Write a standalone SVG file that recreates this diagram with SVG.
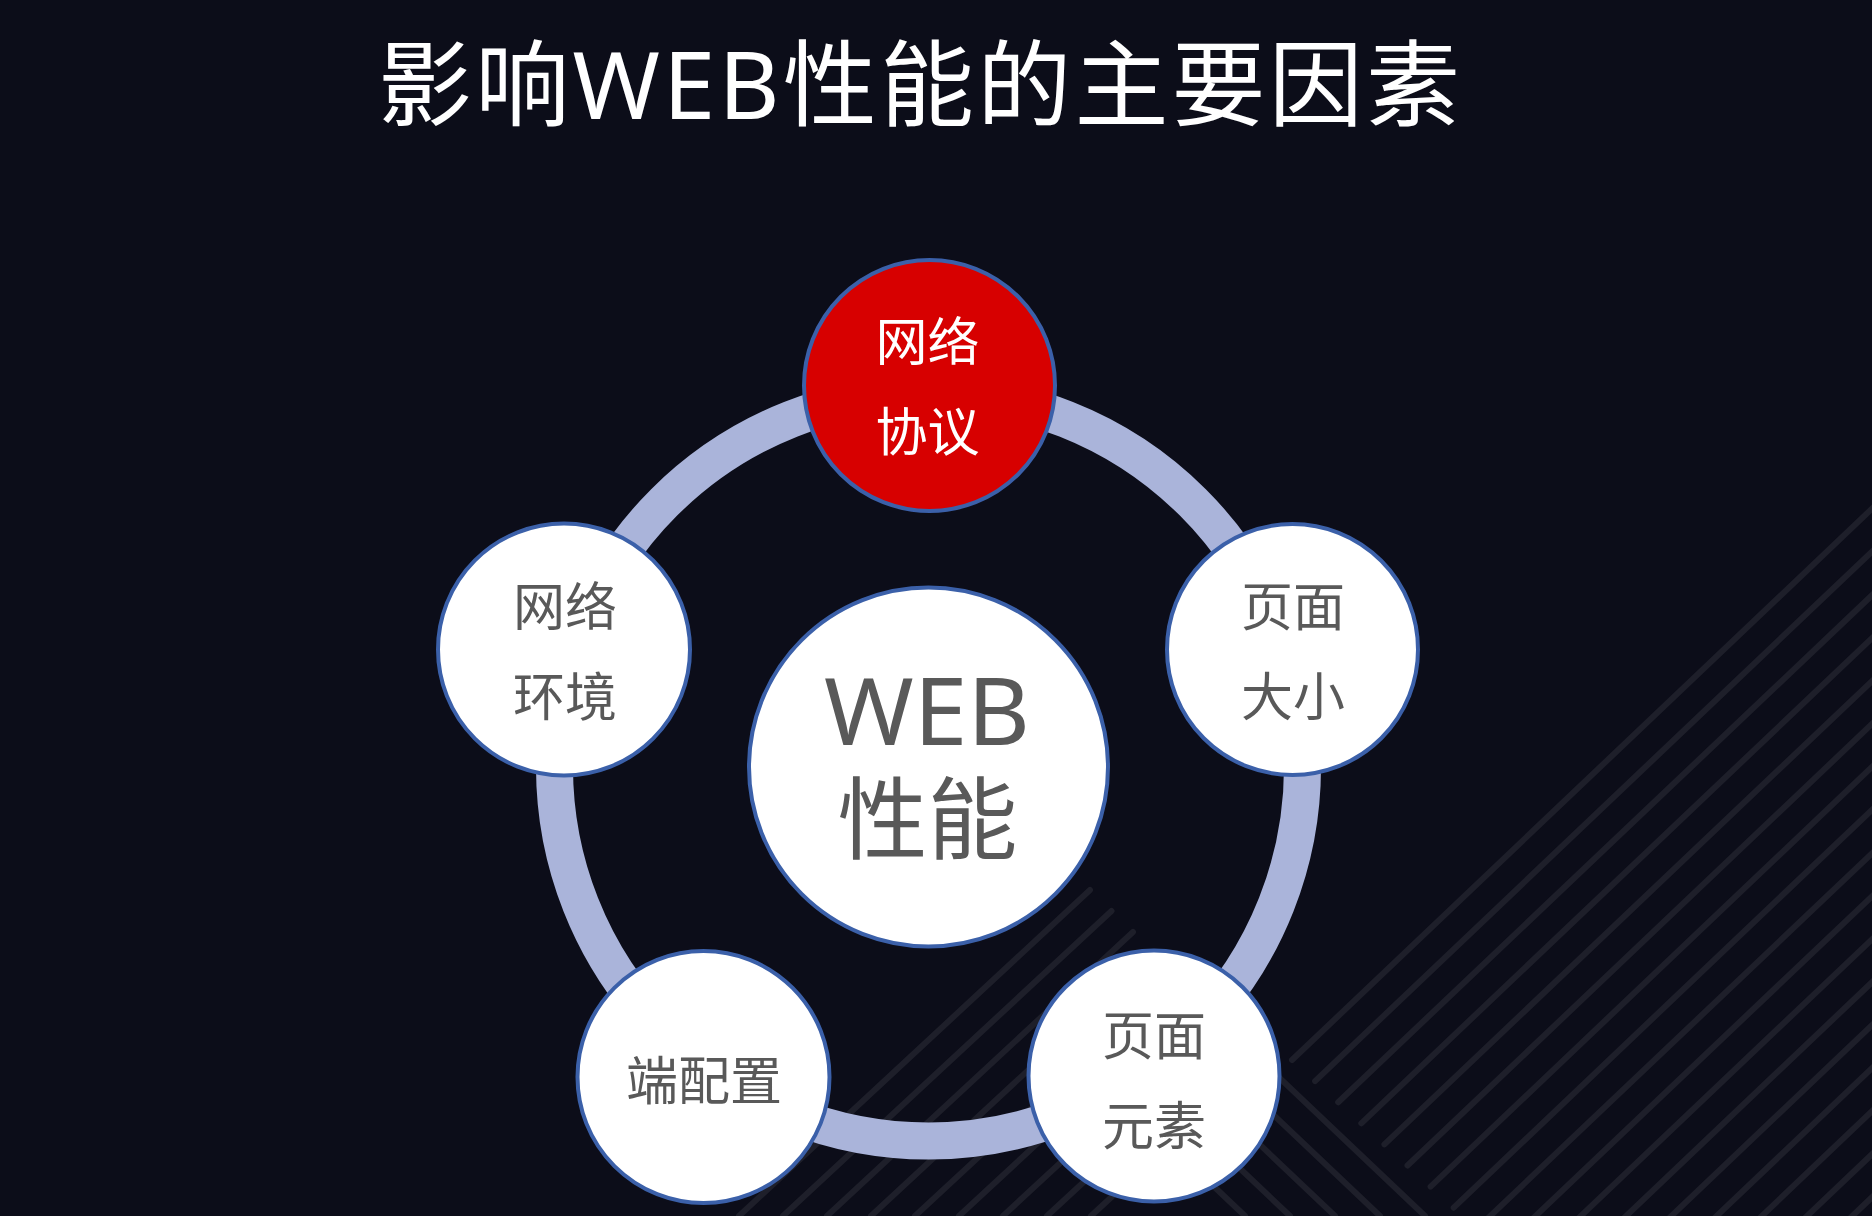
<svg xmlns="http://www.w3.org/2000/svg" width="1872" height="1216" viewBox="0 0 1872 1216">
  <defs>
    <style>
      .bg { fill: #0c0d19; }
      .stripe { stroke: #1e1f2a; stroke-width: 6; stroke-linecap: round; fill: none; }
      .ring { fill: none; stroke: #aab4da; stroke-width: 37; }
      .node { fill: #ffffff; stroke: #3b60a9; stroke-width: 4; }
      .node-red { fill: #d70000; stroke: #3b60a9; stroke-width: 4; }
      .lbl { font-family: "Noto Sans", "Noto Sans CJK SC", sans-serif; font-size: 52px; fill: #595959; text-anchor: middle; }
      .lbl-w { fill: #ffffff; }
      .title { font-family: "Noto Sans", "Noto Sans CJK SC", sans-serif; font-size: 94px; fill: #ffffff; }
      .center { font-family: "Noto Sans", "Noto Sans CJK SC", sans-serif; fill: #595959; text-anchor: middle; }
    </style>
  </defs>

  <rect class="bg" x="0" y="0" width="1872" height="1216"/>

  <g id="background-stripes">
    <!-- group A: lines going down-left -->
    <line class="stripe" x1="1090" y1="890" x2="739" y2="1216"/>
    <line class="stripe" x1="1111.5" y1="911" x2="783" y2="1216"/>
    <line class="stripe" x1="1133" y1="932" x2="827" y2="1216"/>
    <line class="stripe" x1="1154.5" y1="953" x2="871" y2="1216"/>
    <line class="stripe" x1="1176" y1="974" x2="915" y2="1216"/>
    <line class="stripe" x1="1197.5" y1="995" x2="959" y2="1216"/>
    <line class="stripe" x1="1219" y1="1016" x2="1003" y2="1216"/>
    <line class="stripe" x1="1240.5" y1="1037" x2="1047" y2="1216"/>
    <line class="stripe" x1="1262" y1="1058" x2="1091" y2="1216"/>
    <!-- group B: lines going up-right -->
    <line class="stripe" x1="1292" y1="1060" x2="2000" y2="387"/>
    <line class="stripe" x1="1315.1" y1="1081.1" x2="2023" y2="408"/>
    <line class="stripe" x1="1338.2" y1="1102.2" x2="2046" y2="430"/>
    <line class="stripe" x1="1361.3" y1="1123.3" x2="2069" y2="451"/>
    <line class="stripe" x1="1384.4" y1="1144.4" x2="2092" y2="472"/>
    <line class="stripe" x1="1407.5" y1="1165.5" x2="2115" y2="493"/>
    <line class="stripe" x1="1430.6" y1="1186.6" x2="2138" y2="514"/>
    <line class="stripe" x1="1453.7" y1="1207.7" x2="2161" y2="535"/>
    <line class="stripe" x1="1476.8" y1="1228.8" x2="2184" y2="557"/>
    <line class="stripe" x1="1499.9" y1="1249.9" x2="2207" y2="578"/>
    <line class="stripe" x1="1523" y1="1271" x2="2230" y2="599"/>
    <line class="stripe" x1="1546.1" y1="1292.1" x2="2253" y2="620"/>
    <line class="stripe" x1="1569.2" y1="1313.2" x2="2276" y2="641"/>
    <line class="stripe" x1="1592.3" y1="1334.3" x2="2299" y2="662"/>
    <line class="stripe" x1="1615.4" y1="1355.4" x2="2322" y2="683"/>
    <line class="stripe" x1="1638.5" y1="1376.5" x2="2345" y2="704"/>
    <line class="stripe" x1="1661.6" y1="1397.6" x2="2368" y2="725"/>
    <line class="stripe" x1="1684.7" y1="1418.7" x2="2391" y2="746"/>
    <line class="stripe" x1="1707.8" y1="1439.8" x2="2414" y2="767"/>
    <!-- group C: lines going down-right -->
    <line class="stripe" x1="1250" y1="1050" x2="1425" y2="1216"/>
    <line class="stripe" x1="1205" y1="1050" x2="1380" y2="1216"/>
    <line class="stripe" x1="1160" y1="1050" x2="1335" y2="1216"/>
    <line class="stripe" x1="1115" y1="1050" x2="1290" y2="1216"/>
    <line class="stripe" x1="1070" y1="1050" x2="1245" y2="1216"/>
  </g>

  <text class="title" x="378" y="119" textLength="1082" lengthAdjust="spacing">影响WEB性能的主要因素</text>

  <g id="connectors">
    <circle class="ring" cx="928.5" cy="767" r="374"/>
  </g>

  <g id="node-center">
    <circle class="node" cx="928.5" cy="767" r="179.5"/>
    <text class="center" x="927" y="745" font-size="94" textLength="206" lengthAdjust="spacingAndGlyphs">WEB</text>
    <text class="center" x="927.5" y="852" font-size="90">性能</text>
  </g>

  <g id="node-protocol">
    <circle class="node-red" cx="929.5" cy="385.5" r="125.5"/>
    <text class="lbl lbl-w" x="927.5" y="361">网络</text>
    <text class="lbl lbl-w" x="927.5" y="451">协议</text>
  </g>

  <g id="node-network-env">
    <circle class="node" cx="564" cy="649.5" r="126"/>
    <text class="lbl" x="565" y="626">网络</text>
    <text class="lbl" x="565" y="716">环境</text>
  </g>

  <g id="node-page-size">
    <circle class="node" cx="1292.5" cy="649.5" r="125.5"/>
    <text class="lbl" x="1293" y="626">页面</text>
    <text class="lbl" x="1293" y="716">大小</text>
  </g>

  <g id="node-client-config">
    <circle class="node" cx="703.5" cy="1077" r="126"/>
    <text class="lbl" x="704" y="1100">端配置</text>
  </g>

  <g id="node-page-elements">
    <circle class="node" cx="1154" cy="1076" r="125.5"/>
    <text class="lbl" x="1154" y="1055">页面</text>
    <text class="lbl" x="1154" y="1145">元素</text>
  </g>
</svg>
